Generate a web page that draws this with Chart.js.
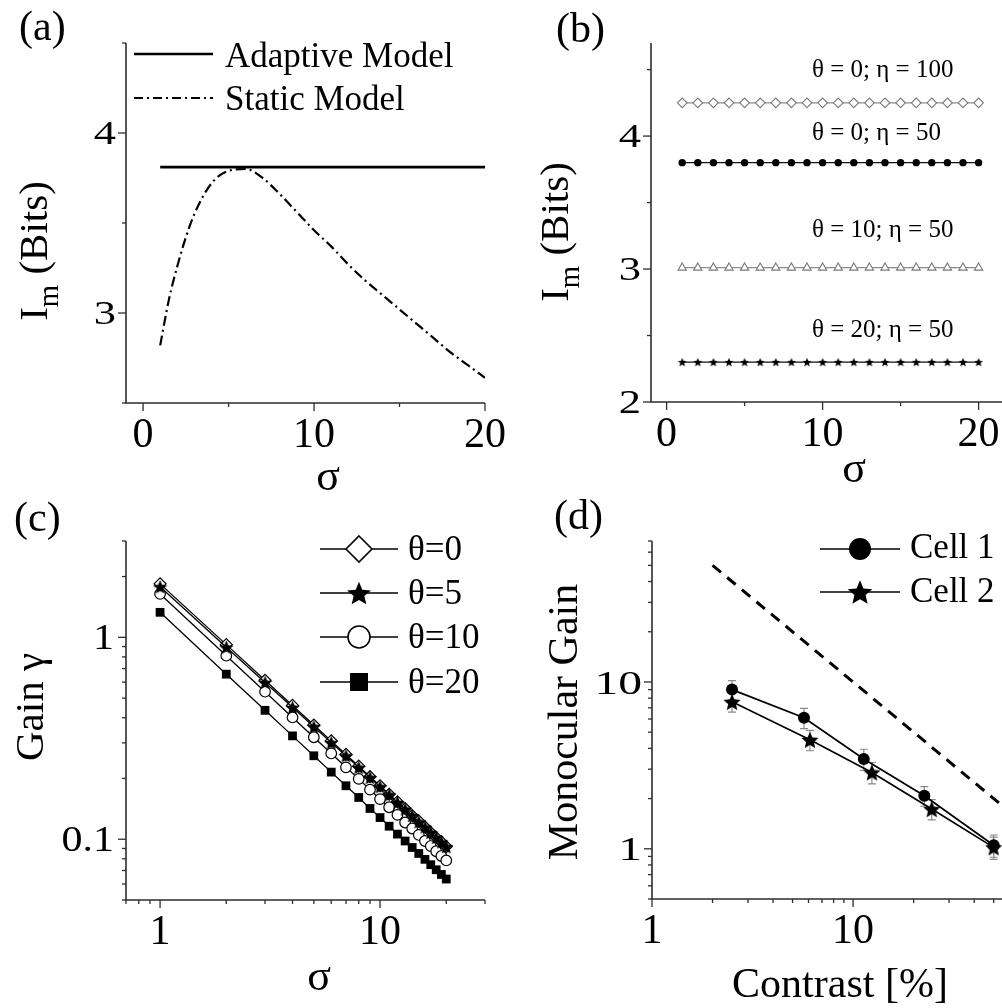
<!DOCTYPE html>
<html>
<head>
<meta charset="utf-8">
<title>Adaptive gain and information</title>
<script src="https://cdn.jsdelivr.net/npm/chart.js@4.4.1/dist/chart.umd.min.js"></script>
<style>
html, body { margin: 0; padding: 0; background: #fff; }
#wrap { position: relative; width: 1002px; height: 1008px; overflow: hidden; background: #fff; }
#wrap canvas { position: absolute; left: 0; top: 0; }
</style>
</head>
<body>
<div id="wrap">
  <canvas id="chartA" width="1002" height="1008"></canvas>
  <canvas id="chartB" width="1002" height="1008"></canvas>
  <canvas id="chartC" width="1002" height="1008"></canvas>
  <canvas id="chartD" width="1002" height="1008"></canvas>
</div>
<script>
// ---------- (a) information vs. sigma ----------
const sigmaAdaptive = [1, 20];
const imAdaptive = [3.81, 3.81];
const sigmaStatic = [1, 1.5, 2, 2.5, 3, 4, 5, 6, 7, 8, 9, 10, 11, 12, 13, 14, 15, 16, 17, 18, 19, 20];
const imStatic = [2.82, 3.07, 3.26, 3.42, 3.55, 3.72, 3.79, 3.80, 3.75, 3.66, 3.56, 3.46, 3.37, 3.27, 3.18, 3.10, 3.02, 2.94, 2.86, 2.78, 2.71, 2.64];

// ---------- (b) information for several theta / eta ----------
const sigmaB = [1, 2, 3, 4, 5, 6, 7, 8, 9, 10, 11, 12, 13, 14, 15, 16, 17, 18, 19, 20];
const imT0E100 = [4.25, 4.25, 4.25, 4.25, 4.25, 4.25, 4.25, 4.25, 4.25, 4.25, 4.25, 4.25, 4.25, 4.25, 4.25, 4.25, 4.25, 4.25, 4.25, 4.25];
const imT0E50 = [3.80, 3.80, 3.80, 3.80, 3.80, 3.80, 3.80, 3.80, 3.80, 3.80, 3.80, 3.80, 3.80, 3.80, 3.80, 3.80, 3.80, 3.80, 3.80, 3.80];
const imT10E50 = [3.01, 3.01, 3.01, 3.01, 3.01, 3.01, 3.01, 3.01, 3.01, 3.01, 3.01, 3.01, 3.01, 3.01, 3.01, 3.01, 3.01, 3.01, 3.01, 3.01];
const imT20E50 = [2.30, 2.30, 2.30, 2.30, 2.30, 2.30, 2.30, 2.30, 2.30, 2.30, 2.30, 2.30, 2.30, 2.30, 2.30, 2.30, 2.30, 2.30, 2.30, 2.30];
const labelsB = ['\u03b8 = 0; \u03b7 = 100', '\u03b8 = 0; \u03b7 = 50', '\u03b8 = 10; \u03b7 = 50', '\u03b8 = 20; \u03b7 = 50'];

// ---------- (c) gain vs. sigma ----------
const sigmaC = [1, 2, 3, 4, 5, 6, 7, 8, 9, 10, 11, 12, 13, 14, 15, 16, 17, 18, 19, 20];
const gainT0 = [1.84, 0.92, 0.613, 0.46, 0.368, 0.307, 0.263, 0.23, 0.204, 0.184, 0.167, 0.153, 0.142, 0.131, 0.123, 0.115, 0.108, 0.102, 0.097, 0.092];
const gainT5 = [1.78, 0.894, 0.598, 0.45, 0.361, 0.301, 0.259, 0.227, 0.202, 0.182, 0.166, 0.152, 0.141, 0.131, 0.122, 0.115, 0.108, 0.102, 0.097, 0.0918];
const gainT10 = [1.64, 0.811, 0.538, 0.401, 0.32, 0.266, 0.227, 0.199, 0.176, 0.158, 0.144, 0.132, 0.121, 0.113, 0.105, 0.098, 0.0925, 0.0872, 0.0826, 0.0785];
const gainT20 = [1.33, 0.657, 0.435, 0.325, 0.259, 0.215, 0.184, 0.161, 0.142, 0.128, 0.116, 0.106, 0.098, 0.091, 0.085, 0.0795, 0.0748, 0.0706, 0.0669, 0.0635];
const legendC = ['\u03b8=0', '\u03b8=5', '\u03b8=10', '\u03b8=20'];

// ---------- (d) monocular gain vs. contrast ----------
const contrastCell1 = [2.5, 5.7, 11.3, 22.6, 50];
const gainCell1 = [9.0, 6.1, 3.45, 2.08, 1.05];
const errCell1 = [1.2, 0.85, 0.5, 0.28, 0.16];
const contrastCell2 = [2.5, 6.1, 12.4, 24.6, 50];
const gainCell2 = [7.6, 4.5, 2.87, 1.73, 1.02];
const errCell2 = [1.0, 0.63, 0.42, 0.24, 0.155];
const contrastRef = [2, 60];
const gainRef = [50, 1.667];
const legendD = ['Cell 1', 'Cell 2'];

// ---------- tick values and labels ----------
const ticksA = { xMajor: [0, 10, 20], xMinor: [5, 15], xLabels: ['0', '10', '20'],
                 yMajor: [3, 4], yMinor: [2.5, 3.5, 4.5], yLabels: ['3', '4'] };
const ticksB = { xMajor: [0, 10, 20], xMinor: [5, 15], xLabels: ['0', '10', '20'],
                 yMajor: [2, 3, 4], yMinor: [2.5, 3.5, 4.5], yLabels: ['2', '3', '4'] };
const ticksC = { xMajor: [1, 10], xMinor: [0.7, 0.8, 0.9, 2, 3, 4, 5, 6, 7, 8, 9, 20, 30], xLabels: ['1', '10'],
                 yMajor: [0.1, 1], yMinor: [0.05, 0.06, 0.07, 0.08, 0.09, 0.2, 0.3, 0.4, 0.5, 0.6, 0.7, 0.8, 0.9, 2, 3], yLabels: ['0.1', '1'] };
const ticksD = { xMajor: [1, 10], xMinor: [2, 3, 4, 5, 6, 7, 8, 9, 20, 30, 40, 50], xLabels: ['1', '10'],
                 yMajor: [1, 10], yMinor: [0.5, 0.6, 0.7, 0.8, 0.9, 2, 3, 4, 5, 6, 7, 8, 9, 20, 30, 40, 50, 60, 70], yLabels: ['1', '10'] };

// ---------- drawing helpers ----------
const PAGE_W = 1002, PAGE_H = 1008;
const SERIF = '"Liberation Serif", "Times New Roman", Times, serif';
const fontOf = (size) => size + 'px ' + SERIF;

function pairs(xs, ys) { return xs.map((x, i) => ({ x: x, y: ys[i] })); }

function starPath(ctx, x, y, r) {
  ctx.beginPath();
  for (let i = 0; i < 10; i++) {
    const rr = (i % 2) ? r * 0.45 : r;
    const ang = -Math.PI / 2 + i * Math.PI / 5;
    const px = x + rr * Math.cos(ang), py = y + r * 0.1 + rr * Math.sin(ang);
    if (i === 0) ctx.moveTo(px, py); else ctx.lineTo(px, py);
  }
  ctx.closePath();
}

function starSprite(r, color) {
  const s = Math.ceil(2 * r + 4);
  const c = document.createElement('canvas');
  c.width = s; c.height = s;
  const g = c.getContext('2d');
  starPath(g, s / 2, s / 2, r);
  g.fillStyle = color;
  g.fill();
  return c;
}

function drawMarker(ctx, m, x, y) {
  ctx.save();
  const r = m.r;
  if (m.style === 'star') {
    starPath(ctx, x, y, r);
  } else {
    ctx.beginPath();
    if (m.style === 'diamond') {
      ctx.moveTo(x, y - r); ctx.lineTo(x + r, y); ctx.lineTo(x, y + r); ctx.lineTo(x - r, y); ctx.closePath();
    } else if (m.style === 'circle') {
      ctx.arc(x, y, r, 0, Math.PI * 2);
    } else if (m.style === 'square') {
      ctx.rect(x - r, y - r, 2 * r, 2 * r);
    }
  }
  if (m.fill) { ctx.fillStyle = m.fill; ctx.fill(); }
  if (m.stroke) { ctx.strokeStyle = m.stroke; ctx.lineWidth = m.lw || 1.5; ctx.stroke(); }
  ctx.restore();
}

function drawRich(ctx, t) {
  const parts = t.parts || [{ text: t.text }];
  const segs = parts.map(p => ({ text: p.text, size: p.sub ? t.size * 0.7 : t.size, dy: p.sub ? t.size * 0.27 : 0 }));
  let total = 0;
  segs.forEach(s => { ctx.font = fontOf(s.size); s.w = ctx.measureText(s.text).width; total += s.w; });
  ctx.save();
  ctx.translate(t.x, t.y);
  if (t.rotate) ctx.rotate(-Math.PI / 2);
  let x0 = t.align === 'center' ? -total / 2 : (t.align === 'right' ? -total : 0);
  ctx.fillStyle = '#000';
  ctx.textAlign = 'left';
  ctx.textBaseline = 'alphabetic';
  segs.forEach(s => { ctx.font = fontOf(s.size); ctx.fillText(s.text, x0, s.dy); x0 += s.w; });
  ctx.restore();
}

// Axes, tick marks, tick labels, error bars, legends and captions of one panel
const panelDecor = {
  id: 'panelDecor',
  beforeDatasetsDraw(chart, args, o) {
    const ctx = chart.ctx, a = chart.chartArea;
    const sx = chart.scales.x, sy = chart.scales.y;
    const t = o.ticks;
    ctx.save();
    ctx.strokeStyle = '#2e2e2e';
    ctx.lineWidth = 1.6;
    ctx.beginPath();
    ctx.moveTo(a.left, a.top);
    ctx.lineTo(a.left, a.bottom);
    ctx.lineTo(a.right, a.bottom);
    ctx.stroke();
    ctx.lineWidth = 1.3;
    const xTick = (v, len) => {
      const p = sx.getPixelForValue(v);
      if (p < a.left - 0.5 || p > a.right + 0.5) return;
      ctx.beginPath(); ctx.moveTo(p, a.bottom); ctx.lineTo(p, a.bottom + len); ctx.stroke();
    };
    const yTick = (v, len) => {
      const p = sy.getPixelForValue(v);
      if (p < a.top - 0.5 || p > a.bottom + 0.5) return;
      ctx.beginPath(); ctx.moveTo(a.left, p); ctx.lineTo(a.left - len, p); ctx.stroke();
    };
    t.xMajor.forEach(v => xTick(v, 8));
    t.xMinor.forEach(v => xTick(v, 4));
    t.yMajor.forEach(v => yTick(v, 8));
    t.yMinor.forEach(v => yTick(v, 4));

    // tick labels
    ctx.fillStyle = '#000';
    ctx.textBaseline = 'alphabetic';
    ctx.font = fontOf(o.xLabelSize);
    ctx.textAlign = 'center';
    t.xMajor.forEach((v, i) => {
      ctx.fillText(t.xLabels[i], sx.getPixelForValue(v), a.bottom + o.xLabelDrop);
    });
    ctx.font = fontOf(o.yLabelSize);
    t.yMajor.forEach((v, i) => {
      const py = sy.getPixelForValue(v);
      ctx.save();
      ctx.translate(a.left - o.yLabelGap, py + 0.34 * o.yLabelSize);
      ctx.scale(o.yLabelStretch, 1);
      ctx.textAlign = 'right';
      ctx.fillText(t.yLabels[i], 0, 0);
      ctx.restore();
    });

    // error bars behind the markers
    chart.data.datasets.forEach((ds) => {
      if (!ds.errors) return;
      ctx.strokeStyle = '#8a8a8a';
      ctx.lineWidth = 1.2;
      ds.data.forEach((pt, i) => {
        const e = ds.errors[i];
        const px = sx.getPixelForValue(pt.x);
        const top = sy.getPixelForValue(pt.y + e);
        const bot = sy.getPixelForValue(pt.y - e);
        ctx.beginPath();
        ctx.moveTo(px, top); ctx.lineTo(px, bot);
        ctx.moveTo(px - 4, top); ctx.lineTo(px + 4, top);
        ctx.moveTo(px - 4, bot); ctx.lineTo(px + 4, bot);
        ctx.stroke();
      });
    });
    ctx.restore();
  },
  afterDraw(chart, args, o) {
    const ctx = chart.ctx;
    ctx.save();
    (o.legend || []).forEach(l => {
      ctx.save();
      ctx.strokeStyle = '#000';
      ctx.lineWidth = l.width;
      ctx.setLineDash(l.dash || []);
      ctx.beginPath(); ctx.moveTo(l.x1, l.y); ctx.lineTo(l.x2, l.y); ctx.stroke();
      ctx.restore();
      if (l.marker) drawMarker(ctx, l.marker, (l.x1 + l.x2) / 2, l.y);
    });
    (o.texts || []).forEach(tx => drawRich(ctx, tx));
    ctx.restore();
  }
};

function baseOptions(area, xScale, yScale, decor) {
  return {
    responsive: false,
    animation: false,
    events: [],
    layout: {
      autoPadding: false,
      padding: { left: area.left, top: area.top, right: PAGE_W - area.right, bottom: PAGE_H - area.bottom }
    },
    plugins: { legend: { display: false }, tooltip: { enabled: false }, panelDecor: decor },
    scales: { x: Object.assign({ display: false }, xScale), y: Object.assign({ display: false }, yScale) }
  };
}

// ---------- (a) ----------
new Chart(document.getElementById('chartA'), {
  type: 'line',
  data: {
    datasets: [
      { data: pairs(sigmaAdaptive, imAdaptive), borderColor: '#000', borderWidth: 2.8, pointRadius: 0, tension: 0 },
      { data: pairs(sigmaStatic, imStatic), borderColor: '#000', borderWidth: 2.2, borderDash: [10, 4, 2, 4],
        pointRadius: 0, cubicInterpolationMode: 'monotone' }
    ]
  },
  options: baseOptions({ left: 126, right: 485, top: 43, bottom: 403 },
    { type: 'linear', min: -1, max: 20 },
    { type: 'linear', min: 2.5, max: 4.5 },
    {
      ticks: ticksA, xLabelSize: 42, xLabelDrop: 44, yLabelSize: 33, yLabelGap: 10, yLabelStretch: 1.35,
      legend: [
        { x1: 134, x2: 213, y: 54, width: 2.6 },
        { x1: 134, x2: 213, y: 98, width: 2.2, dash: [9, 4, 2, 4] }
      ],
      texts: [
        { text: '(a)', x: 19, y: 40, size: 42 },
        { text: 'Adaptive Model', x: 225, y: 67, size: 35 },
        { text: 'Static Model', x: 225, y: 110, size: 35 },
        { parts: [{ text: 'I' }, { text: 'm', sub: true }, { text: ' (Bits)' }], x: 47, y: 251, size: 41, align: 'center', rotate: true },
        { text: '\u03c3', x: 328, y: 490, size: 44, align: 'center' }
      ]
    }),
  plugins: [panelDecor]
});

// ---------- (b) ----------
new Chart(document.getElementById('chartB'), {
  type: 'line',
  data: {
    datasets: [
      { data: pairs(sigmaB, imT0E100), borderColor: '#8c8c8c', borderWidth: 1.3, pointStyle: 'rectRot', pointRadius: 4.8,
        pointBackgroundColor: '#fff', pointBorderColor: '#7a7a7a', pointBorderWidth: 1.1 },
      { data: pairs(sigmaB, imT0E50), borderColor: '#111', borderWidth: 1.3, pointStyle: 'circle', pointRadius: 3.7,
        pointBackgroundColor: '#000', pointBorderColor: '#000', pointBorderWidth: 0 },
      { data: pairs(sigmaB, imT10E50), borderColor: '#8c8c8c', borderWidth: 1.3, pointStyle: 'triangle', pointRadius: 4.8,
        pointBackgroundColor: '#fff', pointBorderColor: '#7a7a7a', pointBorderWidth: 1.1 },
      { data: pairs(sigmaB, imT20E50), borderColor: '#111', borderWidth: 1.3, pointStyle: starSprite(4.6, '#000'), pointRadius: 4.6 }
    ]
  },
  options: baseOptions({ left: 651, right: 1002, top: 43, bottom: 402 },
    { type: 'linear', min: -1, max: 21.5 },
    { type: 'linear', min: 2, max: 4.7 },
    {
      ticks: ticksB, xLabelSize: 42, xLabelDrop: 44, yLabelSize: 33, yLabelGap: 10, yLabelStretch: 1.35,
      texts: [
        { text: '(b)', x: 556, y: 42, size: 42 },
        { text: labelsB[0], x: 812, y: 77, size: 25 },
        { text: labelsB[1], x: 812, y: 140, size: 25 },
        { text: labelsB[2], x: 812, y: 237, size: 25 },
        { text: labelsB[3], x: 812, y: 337, size: 25 },
        { parts: [{ text: 'I' }, { text: 'm', sub: true }, { text: ' (Bits)' }], x: 568, y: 232, size: 41, align: 'center', rotate: true },
        { text: '\u03c3', x: 854, y: 482, size: 44, align: 'center' }
      ]
    }),
  plugins: [panelDecor]
});

// ---------- (c) ----------
new Chart(document.getElementById('chartC'), {
  type: 'line',
  data: {
    datasets: [
      { data: pairs(sigmaC, gainT5), order: 0, borderColor: '#000', borderWidth: 1.3, pointStyle: starSprite(7.5, '#000'), pointRadius: 7.5 },
      { data: pairs(sigmaC, gainT0), order: 1, borderColor: '#000', borderWidth: 1.3, pointStyle: 'rectRot', pointRadius: 6,
        pointBackgroundColor: '#fff', pointBorderColor: '#000', pointBorderWidth: 1.2 },
      { data: pairs(sigmaC, gainT10), order: 2, borderColor: '#000', borderWidth: 1.3, pointStyle: 'circle', pointRadius: 5.3,
        pointBackgroundColor: '#fff', pointBorderColor: '#000', pointBorderWidth: 1.2 },
      { data: pairs(sigmaC, gainT20), order: 3, borderColor: '#000', borderWidth: 1.3, pointStyle: 'rect', pointRadius: 6.2,
        pointBackgroundColor: '#000', pointBorderColor: '#000', pointBorderWidth: 0 }
    ]
  },
  options: baseOptions({ left: 126, right: 485, top: 541, bottom: 900 },
    { type: 'logarithmic', min: 0.7, max: 30 },
    { type: 'logarithmic', min: 0.05, max: 3 },
    {
      ticks: ticksC, xLabelSize: 42, xLabelDrop: 44, yLabelSize: 35, yLabelGap: 12, yLabelStretch: 1.2,
      legend: [
        { x1: 320, x2: 398, y: 549, width: 1.5, marker: { style: 'diamond', r: 13, fill: '#fff', stroke: '#000', lw: 1.6 } },
        { x1: 320, x2: 398, y: 593, width: 1.5, marker: { style: 'star', r: 12.5, fill: '#000' } },
        { x1: 320, x2: 398, y: 637, width: 1.5, marker: { style: 'circle', r: 11, fill: '#fff', stroke: '#000', lw: 1.6 } },
        { x1: 320, x2: 398, y: 682, width: 1.5, marker: { style: 'square', r: 9, fill: '#000' } }
      ],
      texts: [
        { text: '(c)', x: 14, y: 531, size: 42 },
        { text: legendC[0], x: 408, y: 560, size: 35 },
        { text: legendC[1], x: 408, y: 604, size: 35 },
        { text: legendC[2], x: 408, y: 648, size: 35 },
        { text: legendC[3], x: 408, y: 693, size: 35 },
        { text: 'Gain \u03b3', x: 43, y: 707, size: 41, align: 'center', rotate: true },
        { text: '\u03c3', x: 319, y: 990, size: 44, align: 'center' }
      ]
    }),
  plugins: [panelDecor]
});

// ---------- (d) ----------
new Chart(document.getElementById('chartD'), {
  type: 'line',
  data: {
    datasets: [
      { data: pairs(contrastCell1, gainCell1), errors: errCell1, order: 0, borderColor: '#000', borderWidth: 1.7,
        pointStyle: 'circle', pointRadius: 6, pointBackgroundColor: '#000', pointBorderColor: '#000', pointBorderWidth: 0 },
      { data: pairs(contrastCell2, gainCell2), errors: errCell2, order: 1, borderColor: '#000', borderWidth: 1.7,
        pointStyle: starSprite(9, '#000'), pointRadius: 9 },
      { data: pairs(contrastRef, gainRef), order: 2, borderColor: '#000', borderWidth: 3, borderDash: [11, 8], pointRadius: 0 }
    ]
  },
  options: baseOptions({ left: 652, right: 1002, top: 541, bottom: 899 },
    { type: 'logarithmic', min: 1, max: 55 },
    { type: 'logarithmic', min: 0.5, max: 70 },
    {
      ticks: ticksD, xLabelSize: 42, xLabelDrop: 44, yLabelSize: 34, yLabelGap: 10, yLabelStretch: 1.4,
      legend: [
        { x1: 820, x2: 900, y: 549, width: 1.5, marker: { style: 'circle', r: 11, fill: '#000' } },
        { x1: 820, x2: 900, y: 592, width: 1.5, marker: { style: 'star', r: 13, fill: '#000' } }
      ],
      texts: [
        { text: '(d)', x: 554, y: 529, size: 42 },
        { text: legendD[0], x: 910, y: 558, size: 35 },
        { text: legendD[1], x: 910, y: 602, size: 35 },
        { text: 'Monocular Gain', x: 577, y: 722, size: 42, align: 'center', rotate: true },
        { text: 'Contrast [%]', x: 840, y: 997, size: 42, align: 'center' }
      ]
    }),
  plugins: [panelDecor]
});
</script>
</body>
</html>
